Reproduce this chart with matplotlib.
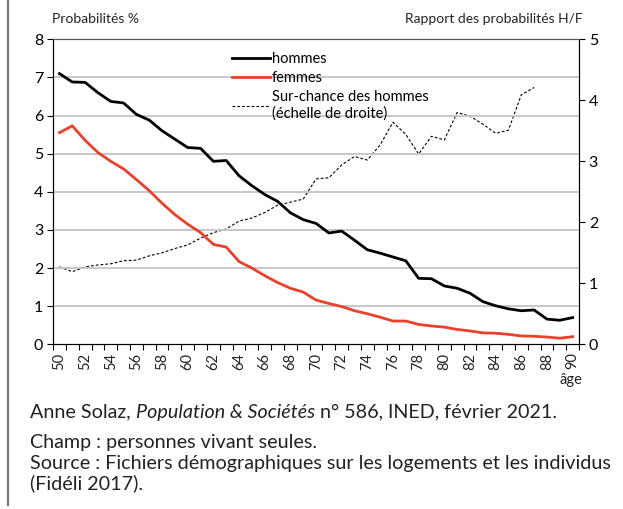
import matplotlib
matplotlib.use('Agg')
import matplotlib.pyplot as plt
from matplotlib.ticker import FixedLocator

plt.rcParams['font.family'] = ['Lato', 'DejaVu Sans']

ages = list(range(50, 91))
hommes = [7.10, 6.88, 6.87, 6.60, 6.37, 6.33, 6.03, 5.88, 5.60, 5.38,
          5.16, 5.14, 4.80, 4.82, 4.42, 4.16, 3.93, 3.75, 3.45, 3.27,
          3.17, 2.92, 2.97, 2.73, 2.48, 2.39, 2.29, 2.19, 1.73, 1.72,
          1.53, 1.47, 1.34, 1.12, 1.01, 0.93, 0.88, 0.90, 0.66, 0.63,
          0.70]
femmes = [5.55, 5.73, 5.35, 5.03, 4.80, 4.60, 4.32, 4.03, 3.70, 3.40,
          3.15, 2.93, 2.62, 2.55, 2.17, 2.00, 1.80, 1.62, 1.47, 1.37,
          1.16, 1.07, 0.99, 0.88, 0.80, 0.71, 0.61, 0.61, 0.52, 0.48,
          0.45, 0.39, 0.35, 0.30, 0.29, 0.26, 0.22, 0.21, 0.19, 0.16,
          0.20]
# ratio H/F, only up to 87 years
ages_ratio = list(range(50, 88))
surchance = [1.27, 1.19, 1.27, 1.30, 1.32, 1.37, 1.38, 1.45, 1.50, 1.57,
             1.63, 1.74, 1.83, 1.89, 2.02, 2.07, 2.16, 2.28, 2.33, 2.38,
             2.71, 2.73, 2.94, 3.08, 3.02, 3.27, 3.64, 3.44, 3.12, 3.41,
             3.35, 3.80, 3.74, 3.61, 3.46, 3.51, 4.09, 4.21]

red = '#e8412c'
txt = '#222222'

fig = plt.figure(figsize=(6.23, 5.09), dpi=100)
ax = fig.add_axes([0.0851, 0.3236, 0.8443, 0.5992])
ax2 = ax.twinx()

for y in range(1, 8):
    ax.axhline(y, color='#c4c4c4', lw=1.3, zorder=0)

l1, = ax.plot(ages, hommes, color='black', lw=2.0, label='hommes', zorder=3)
l2, = ax.plot(ages, femmes, color=red, lw=2.0, label='femmes', zorder=3)
l3, = ax2.plot(ages_ratio, surchance, color='black', lw=0.8, ls=(0, (2.5, 1.8)),
               label='Sur-chance des hommes\n(échelle de droite)')

ax.set_xlim(49.5, 90.5)
ax.set_ylim(0, 8)
ax2.set_ylim(0, 5)
ax.set_yticks(range(0, 9))
ax2.set_yticks(range(0, 6))

ax.xaxis.set_major_locator(FixedLocator(list(range(50, 91, 2))))
ax.xaxis.set_minor_locator(FixedLocator([a + 0.5 for a in range(49, 91)]))
ax.tick_params(axis='x', which='major', length=0, labelrotation=90,
               labelsize=10.5, pad=6, colors=txt)
ax.tick_params(axis='x', which='minor', length=4, width=0.8, direction='out')
ax.tick_params(axis='y', length=4, width=0.8, labelsize=11.5, pad=3)
ax2.tick_params(axis='y', length=4, width=0.8, labelsize=11.5, pad=3)

for a in (ax, ax2):
    a.spines['top'].set_color('#555555')
    for s in a.spines.values():
        s.set_linewidth(0.8)

ax.set_zorder(ax2.get_zorder() + 1)
ax.patch.set_visible(False)

leg = ax.legend(handles=[l1, l2, l3], loc='upper left',
                bbox_to_anchor=(0.33, 0.978), frameon=False, fontsize=10.5,
                handlelength=2.6, handletextpad=0.1, labelspacing=0.35,
                borderaxespad=0)

fig.text(0.083, 0.962, 'Probabilités %', fontsize=10, ha='left', va='center',
         color=txt)
fig.text(0.935, 0.962, 'Rapport des probabilités H/F', fontsize=10,
         ha='right', va='center', color=txt)
fig.text(0.917, 0.253, 'âge', fontsize=10.5, ha='center', va='center',
         color=txt)

fs = 14.2
# citation line: regular / italic / regular pieces placed one after another
renderer = fig.canvas.get_renderer()
x = 0.048
for part, style in [('Anne Solaz, ', 'normal'),
                    ('Population & Sociétés', 'italic'),
                    (' n° 586, INED, février 2021.', 'normal')]:
    t = fig.text(x, 0.19, part, fontsize=fs, fontstyle=style, ha='left',
                 va='center', color=txt)
    bb = t.get_window_extent(renderer)
    x += bb.width / fig.bbox.width

fig.text(0.048, 0.131, 'Champ : personnes vivant seules.', fontsize=fs,
         ha='left', va='center', color=txt)
fig.text(0.048, 0.09, 'Source : Fichiers démographiques sur les logements et les individus',
         fontsize=fs, ha='left', va='center', color=txt)
fig.text(0.048, 0.051, '(Fidéli 2017).', fontsize=fs, ha='left',
         va='center', color=txt)

fig.add_artist(plt.Line2D([0.0135, 0.0135], [0.008, 1.0], color='#777777',
                          lw=1.6, transform=fig.transFigure))

fig.savefig('out.png', dpi=100)
